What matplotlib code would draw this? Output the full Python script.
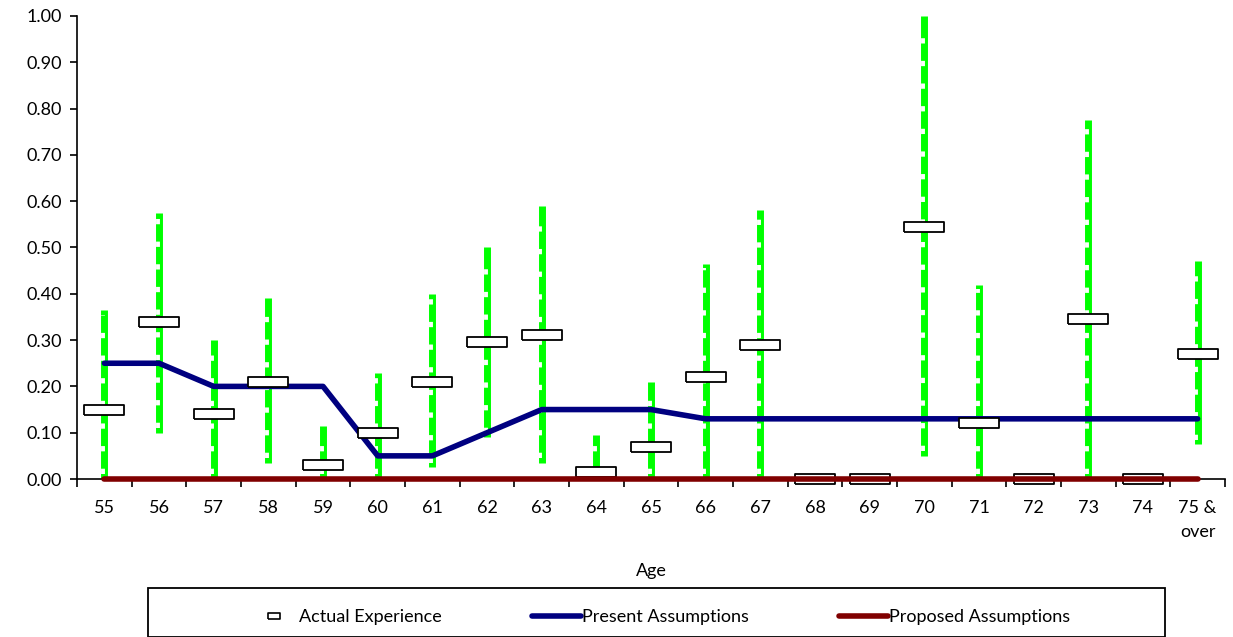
import numpy as np
import matplotlib.pyplot as plt
from matplotlib.ticker import FixedLocator
from matplotlib.lines import Line2D
from matplotlib.patches import Rectangle

plt.rcParams['font.family'] = ['Lato', 'DejaVu Sans']
plt.rcParams['lines.scale_dashes'] = False

ages = ['55', '56', '57', '58', '59', '60', '61', '62', '63', '64', '65',
        '66', '67', '68', '69', '70', '71', '72', '73', '74', '75 &\nover']
actual = [0.15, 0.34, 0.14, 0.21, 0.03, 0.10, 0.21, 0.295, 0.31, 0.015, 0.07,
          0.22, 0.29, 0.0, 0.0, 0.545, 0.12, 0.0, 0.345, 0.0, 0.27]
upper = [0.365, 0.575, 0.30, 0.39, 0.115, 0.23, 0.40, 0.50, 0.59, 0.095, 0.21,
         0.465, 0.58, None, None, 1.00, 0.42, None, 0.775, None, 0.47]
lower = [0.0, 0.10, 0.0, 0.035, 0.0, 0.0, 0.025, 0.09, 0.035, 0.0, 0.0,
         0.0, 0.0, None, None, 0.05, 0.0, None, 0.0, None, 0.075]
present = [0.25, 0.25, 0.20, 0.20, 0.20, 0.05, 0.05, 0.10, 0.15, 0.15, 0.15,
           0.13, 0.13, 0.13, 0.13, 0.13, 0.13, 0.13, 0.13, 0.13, 0.13]
proposed = [0.0] * 21

x = np.arange(len(ages))

fig = plt.figure(figsize=(12.33, 6.37), dpi=100)
ax = fig.add_axes([0.0625, 0.248, 0.931, 0.727])

# error bars: green with white notches on the left side
for i in range(len(ages)):
    if upper[i] is None:
        continue
    ax.plot([x[i], x[i]], [lower[i], upper[i]], color='#00ff00', lw=5,
            solid_capstyle='butt', zorder=2)
    ax.plot([x[i] - 0.027, x[i] - 0.027], [lower[i] + 0.01, upper[i] - 0.01],
            color='white', lw=2.8, dashes=(3.8, 12.5), dash_capstyle='butt', zorder=2.1)

ax.plot(x, present, color='#000080', lw=4, solid_capstyle='round', zorder=3)

rect = [(-2.2, -0.5), (2.2, -0.5), (2.2, 0.5), (-2.2, 0.5), (-2.2, -0.5)]
ax.plot(x, actual, linestyle='none', marker=rect, markersize=29, markerfacecolor='white',
        markeredgecolor='black', markeredgewidth=1.3, zorder=5, clip_on=False)

ax.plot(x, proposed, color='#800000', lw=4, solid_capstyle='round', zorder=6, clip_on=False)

ax.set_xlim(-0.5, len(ages) - 0.5)
ax.set_ylim(0, 1.0)
ax.set_yticks(np.arange(0, 1.01, 0.1))
ax.set_yticklabels(['%.2f' % v for v in np.arange(0, 1.01, 0.1)])
ax.set_xticks(x)
ax.set_xticklabels(ages)
ax.get_xticklabels()[-1].set_linespacing(1.65)
ax.xaxis.set_minor_locator(FixedLocator(np.arange(-0.5, len(ages), 1)))
ax.tick_params(axis='x', which='major', length=0, pad=15, labelsize=13)
ax.tick_params(axis='x', which='minor', length=6, width=1.2, direction='out')
ax.tick_params(axis='y', length=5, width=1.2, labelsize=13, pad=6)
for s in ['top', 'right']:
    ax.spines[s].set_visible(False)
ax.spines['left'].set_linewidth(1.2)
ax.spines['bottom'].set_linewidth(1.2)
ax.set_xlabel('Age', fontsize=13, labelpad=16)

# legend
rect_small = [(-1.2, -0.5), (1.2, -0.5), (1.2, 0.5), (-1.2, 0.5), (-1.2, -0.5)]
handles = [
    Line2D([], [], linestyle='none', marker=rect_small, markersize=9, markerfacecolor='white',
           markeredgecolor='black', markeredgewidth=1.2),
    Line2D([], [], color='#000080', lw=4, solid_capstyle='round'),
    Line2D([], [], color='#800000', lw=4, solid_capstyle='round'),
]
labels = ['Actual Experience', 'Present Assumptions', 'Proposed Assumptions']
leg = fig.legend(handles, labels, loc='center', bbox_to_anchor=(659.5 / 1233, 1 - 617 / 637),
                 ncol=3, frameon=False, fontsize=13, columnspacing=5.0,
                 handlelength=2.7, handletextpad=0.05)

fig.patches.append(Rectangle((148 / 1233, 0.0), (1165 - 148) / 1233, (637 - 594) / 637 + 0.01,
                             transform=fig.transFigure, fill=False, edgecolor='black',
                             linewidth=1.3))

fig.savefig('out.png', dpi=100)
